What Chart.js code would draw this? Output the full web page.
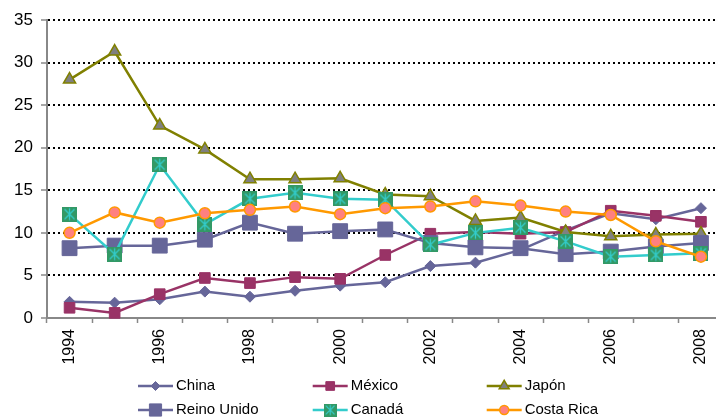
<!DOCTYPE html>
<html>
<head>
<meta charset="utf-8">
<script src="https://cdn.jsdelivr.net/npm/chart.js@4/dist/chart.umd.min.js"></script>
<style>
  html, body { margin: 0; padding: 0; background: #fff; overflow: hidden; }
  canvas { display: block; }
</style>
</head>
<body>
<canvas id="c" width="735" height="418"></canvas>
<script>
// Categories (years)
const years = ['1994','1995','1996','1997','1998','1999','2000','2001','2002','2003','2004','2005','2006','2007','2008'];

// Series values
const china      = [1.9, 1.8, 2.2, 3.1, 2.5, 3.2, 3.8, 4.2, 6.1, 6.5, 8.0, 10.3, 12.3, 11.6, 12.9];
const mexico     = [1.2, 0.6, 2.8, 4.7, 4.1, 4.8, 4.6, 7.4, 9.9, 10.1, 9.9, 10.1, 12.6, 12.0, 11.3];
const japon      = [28.0, 31.3, 22.6, 19.8, 16.3, 16.3, 16.4, 14.5, 14.3, 11.4, 11.8, 10.1, 9.6, 9.8, 9.9];
const reinoUnido = [8.2, 8.5, 8.5, 9.2, 11.2, 9.9, 10.2, 10.4, 8.8, 8.3, 8.2, 7.5, 7.8, 8.4, 8.8];
const canada     = [12.2, 7.5, 18.0, 11.0, 14.0, 14.7, 14.0, 13.9, 8.6, 10.0, 10.6, 9.0, 7.2, 7.4, 7.6];
const costaRica  = [10.0, 12.4, 11.2, 12.3, 12.7, 13.1, 12.2, 12.9, 13.1, 13.7, 13.2, 12.5, 12.1, 9.0, 7.2];

// Y axis ticks
const yTicks = [0, 5, 10, 15, 20, 25, 30, 35];

Chart.defaults.font.family = "'Liberation Sans', Arial, sans-serif";
Chart.defaults.color = '#000';

// Square marker with an asterisk (used for Canadá)
function starSquare(size) {
  const cv = document.createElement('canvas');
  cv.width = size; cv.height = size;
  const g = cv.getContext('2d');
  g.fillStyle = '#339966';
  g.fillRect(0, 0, size, size);
  g.strokeStyle = '#33CCCC';
  g.lineWidth = 1.3;
  const p = 2.5, m = size / 2;
  g.beginPath();
  g.moveTo(p, p); g.lineTo(size - p, size - p);
  g.moveTo(size - p, p); g.lineTo(p, size - p);
  g.moveTo(m, 1.5); g.lineTo(m, size - 1.5);
  g.stroke();
  return cv;
}
const canadaMarker = starSquare(15);

const series = [
  { label: 'China', data: china, borderColor: '#666699', pointStyle: 'rectRot', pointRadius: 5.5,
    pointBackgroundColor: '#666699', pointBorderColor: '#666699', pointBorderWidth: 1 },
  { label: 'México', data: mexico, borderColor: '#993366', pointStyle: 'rect', pointRadius: 7.5,
    pointBackgroundColor: '#993366', pointBorderColor: '#993366', pointBorderWidth: 1 },
  { label: 'Japón', data: japon, borderColor: '#808000', pointStyle: 'triangle', pointRadius: 7,
    pointBackgroundColor: '#808080', pointBorderColor: '#808000', pointBorderWidth: 1.5 },
  { label: 'Reino Unido', data: reinoUnido, borderColor: '#666699', pointStyle: 'rect', pointRadius: 10.5,
    pointBackgroundColor: '#666699', pointBorderColor: '#666699', pointBorderWidth: 1 },
  { label: 'Canadá', data: canada, borderColor: '#33CCCC', pointStyle: canadaMarker, pointRadius: 7.5,
    pointBackgroundColor: '#339966', pointBorderColor: '#339966', pointBorderWidth: 0 },
  { label: 'Costa Rica', data: costaRica, borderColor: '#FF9900', pointStyle: 'circle', pointRadius: 5.5,
    pointBackgroundColor: '#FF8080', pointBorderColor: '#FF9900', pointBorderWidth: 1.5 }
];

// Legend under the plot: line + marker + name, 3 columns x 2 rows
const legendPlugin = {
  id: 'lineLegend',
  afterDraw(chart) {
    const ctx = chart.ctx;
    const colX = [138, 312.7, 486.7];
    const rowY = [386, 410];
    ctx.save();
    chart.data.datasets.forEach((ds, i) => {
      const x0 = colX[i % 3], y = rowY[Math.floor(i / 3)];
      const x1 = x0 + 35, xm = (x0 + x1) / 2;
      ctx.strokeStyle = ds.borderColor;
      ctx.lineWidth = 2.5;
      ctx.beginPath(); ctx.moveTo(x0, y); ctx.lineTo(x1, y); ctx.stroke();
      if (typeof ds.pointStyle === 'string') {
        ctx.fillStyle = ds.pointBackgroundColor;
        ctx.strokeStyle = ds.pointBorderColor;
        ctx.lineWidth = ds.pointBorderWidth;
        Chart.helpers.drawPoint(ctx, {
          pointStyle: ds.pointStyle, radius: ds.pointRadius * 0.82,
          rotation: 0, borderWidth: ds.pointBorderWidth
        }, xm, y);
      } else {
        const s = 13;
        ctx.drawImage(ds.pointStyle, xm - s / 2, y - s / 2, s, s);
      }
      ctx.fillStyle = '#000';
      ctx.font = "15px 'Liberation Sans', Arial, sans-serif";
      ctx.textBaseline = 'middle';
      ctx.textAlign = 'left';
      ctx.fillText(ds.label, x1 + 3, y);
    });
    ctx.restore();
  }
};

new Chart(document.getElementById('c'), {
  type: 'line',
  data: {
    labels: years,
    datasets: series.map((s, i) => Object.assign({
      borderWidth: 2.5,
      tension: 0,
      fill: false,
      order: series.length - i,
      clip: false
    }, s))
  },
  options: {
    responsive: false,
    animation: false,
    events: [],
    layout: { padding: { top: 20, bottom: 48, left: 0, right: 0 } },
    plugins: { legend: { display: false }, tooltip: { enabled: false } },
    scales: {
      x: {
        type: 'category',
        offset: true,
        afterFit(scale) { scale.height = 52; },
        grid: {
          offset: true,
          drawOnChartArea: false,
          drawTicks: true,
          tickLength: 5,
          tickColor: '#888',
          tickWidth: 1.5,
          color: '#888'
        },
        border: { display: true, color: '#888', width: 2 },
        ticks: {
          autoSkip: false,
          maxRotation: 90,
          minRotation: 90,
          padding: 6,
          font: { size: 16 },
          color: '#000',
          callback(value, index) { return index % 2 === 0 ? years[index] : ''; }
        }
      },
      y: {
        min: yTicks[0],
        max: yTicks[yTicks.length - 1],
        afterFit(scale) { scale.width = 47; },
        afterBuildTicks(scale) { scale.ticks = yTicks.map(v => ({ value: v })); },
        grid: {
          color(ctx) { return ctx.tick && ctx.tick.value === 0 ? 'rgba(0,0,0,0)' : '#000'; },
          lineWidth: 2,
          tickLength: 6,
          tickColor: '#888',
          tickWidth: 1.5,
          tickBorderDash: []
        },
        border: { display: true, color: '#888', width: 2, dash: [2, 3] },
        ticks: {
          padding: 8,
          font: { size: 17 },
          color: '#000'
        }
      }
    }
  },
  plugins: [legendPlugin]
});
</script>
</body>
</html>
